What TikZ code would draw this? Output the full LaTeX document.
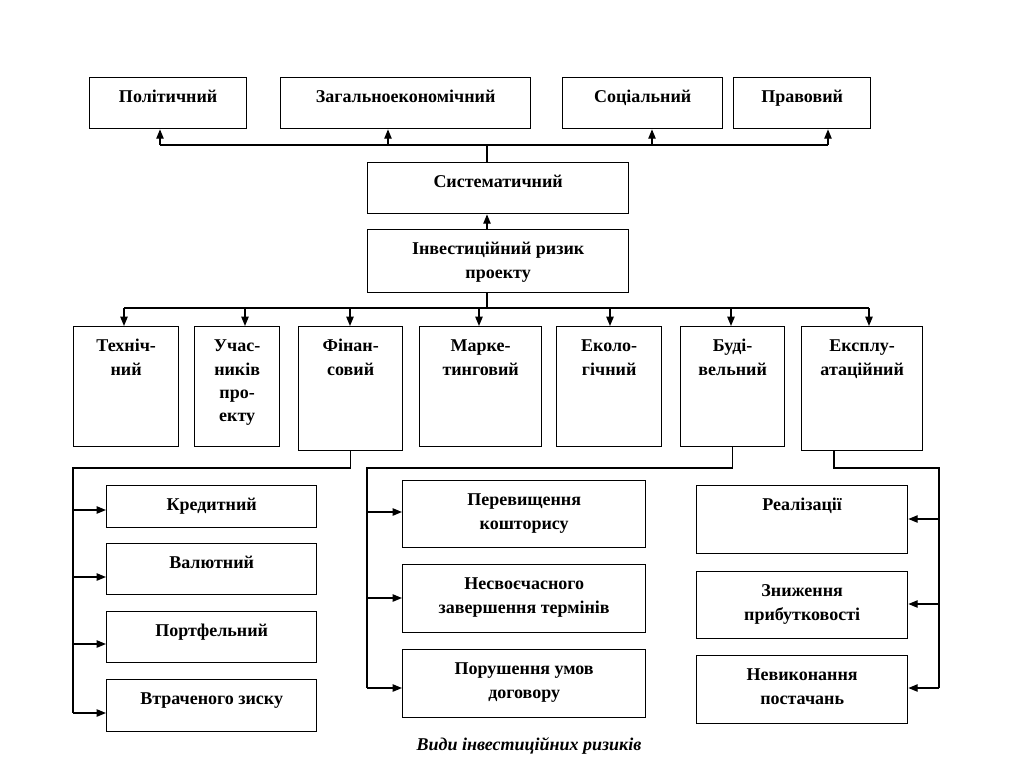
\documentclass[tikz,border=0pt]{standalone}
\usepackage{fontspec}
\setmainfont{Liberation Serif}
\usetikzlibrary{arrows.meta}
\tikzset{
  box/.style={draw, line width=1pt, inner sep=0pt},
  lbl/.style={anchor=north, inner sep=0pt, align=center, font=\fontsize{13.5}{17.5}\selectfont\bfseries},
  arr/.style={line width=1pt, -{Triangle[length=7pt,width=5.5pt]}},
  ln/.style={line width=1pt},
  capt/.style={inner sep=0pt, font=\fontsize{13.5}{16}\selectfont\bfseries\itshape},
}
\newcommand\rbx[6]{%
  \node[box, anchor=north west, minimum width={(#4-#2)*0.75pt}, minimum height={(#5-#3)*0.75pt}] (#1) at (#2,#3) {};
  \node[lbl] (#1-txt) at ([yshift=-7pt]#1.north) {\strut #6};
}
\begin{document}
\begin{tikzpicture}[x=0.75pt, y=-0.75pt]
\useasboundingbox[fill=white] (0,0) rectangle (1024,768);
% top row
\rbx{pol}{89}{77}{246}{128}{Політичний}
\rbx{zag}{280}{77}{530}{128}{Загальноекономічний}
\rbx{soc}{562}{77}{722}{128}{Соціальний}
\rbx{prav}{733}{77}{870}{128}{Правовий}
\rbx{sys}{367}{162}{628}{213}{Систематичний}
\rbx{inv}{367}{229}{628}{292}{Інвестиційний ризик\\проекту}
% middle row
\rbx{tech}{73}{326}{178}{446}{Техніч-\\ний}
\rbx{uch}{194}{326}{279}{446}{Учас-\\ників\\про-\\екту}
\rbx{fin}{298}{326}{402}{450}{Фінан-\\совий}
\rbx{mark}{419}{326}{541}{446}{Марке-\\тинговий}
\rbx{eko}{556}{326}{661}{446}{Еколо-\\гічний}
\rbx{bud}{680}{326}{784}{446}{Буді-\\вельний}
\rbx{eks}{801}{326}{922}{450}{Експлу-\\атаційний}
% bottom left
\rbx{kred}{106}{485}{316}{527}{Кредитний}
\rbx{valu}{106}{543}{316}{594}{Валютний}
\rbx{portf}{106}{611}{316}{662}{Портфельний}
\rbx{vtr}{106}{679}{316}{731}{Втраченого зиску}
% bottom middle
\rbx{perev}{402}{480}{645}{547}{Перевищення\\кошторису}
\rbx{nesv}{402}{564}{645}{632}{Несвоєчасного\\завершення термінів}
\rbx{poru}{402}{649}{645}{717}{Порушення умов\\договору}
% bottom right
\rbx{real}{696}{485}{907}{553}{Реалізації}
\rbx{znyzh}{696}{571}{907}{638}{Зниження\\прибутковості}
\rbx{nevyk}{696}{655}{907}{723}{Невиконання\\постачань}
% caption
\node[capt] (cap) at (529,746) {Види інвестиційних ризиків};

% top bus
\coordinate (tbL) at (160,145);
\coordinate (tb2) at (388,145);
\coordinate (tbM) at (487,145);
\coordinate (tb3) at (652,145);
\coordinate (tbR) at (828,145);
\draw[arr] (inv.north -| tbM) -- (sys.south -| tbM);
\draw[ln] (sys.north -| tbM) -- (tbM);
\draw[ln] (tbL) -- (tbR);
\draw[arr] (tbL) -- (tbL |- pol.south);
\draw[arr] (tb2) -- (tb2 |- zag.south);
\draw[arr] (tb3) -- (tb3 |- soc.south);
\draw[arr] (tbR) -- (tbR |- prav.south);

% middle bus
\coordinate (m1) at (124,308);
\coordinate (m2) at (245,308);
\coordinate (m3) at (350,308);
\coordinate (m4) at (479,308);
\coordinate (m5) at (610,308);
\coordinate (m6) at (731,308);
\coordinate (m7) at (869,308);
\draw[ln] (inv.south -| tbM) -- (tbM |- m1);
\draw[ln] (m1) -- (m7);
\draw[arr] (m1) -- (m1 |- tech.north);
\draw[arr] (m2) -- (m2 |- uch.north);
\draw[arr] (m3) -- (m3 |- fin.north);
\draw[arr] (m4) -- (m4 |- mark.north);
\draw[arr] (m5) -- (m5 |- eko.north);
\draw[arr] (m6) -- (m6 |- bud.north);
\draw[arr] (m7) -- (m7 |- eks.north);

% financial branch
\coordinate (L0) at (73,468);
\coordinate (L1) at (73,510);
\coordinate (L2) at (73,577);
\coordinate (L3) at (73,644);
\coordinate (L4) at (73,713);
\draw[ln] (fin.south) |- (L0) -- (L4);
\draw[arr] (L1) -- (L1 -| kred.west);
\draw[arr] (L2) -- (L2 -| valu.west);
\draw[arr] (L3) -- (L3 -| portf.west);
\draw[arr] (L4) -- (L4 -| vtr.west);

% construction branch
\coordinate (M0) at (367,468);
\coordinate (M1) at (367,512);
\coordinate (M2) at (367,598);
\coordinate (M3) at (367,688);
\draw[ln] (bud.south) |- (M0) -- (M3);
\draw[arr] (M1) -- (M1 -| perev.west);
\draw[arr] (M2) -- (M2 -| nesv.west);
\draw[arr] (M3) -- (M3 -| poru.west);

% operation branch
\coordinate (R0) at (834,468);
\coordinate (R1) at (939,468);
\coordinate (Ra) at (939,519);
\coordinate (Rb) at (939,604);
\coordinate (Rc) at (939,688);
\draw[ln] (eks.south -| R0) -- (R0) -- (R1) -- (Rc);
\draw[arr] (Ra) -- (Ra -| real.east);
\draw[arr] (Rb) -- (Rb -| znyzh.east);
\draw[arr] (Rc) -- (Rc -| nevyk.east);
\end{tikzpicture}
\end{document}
